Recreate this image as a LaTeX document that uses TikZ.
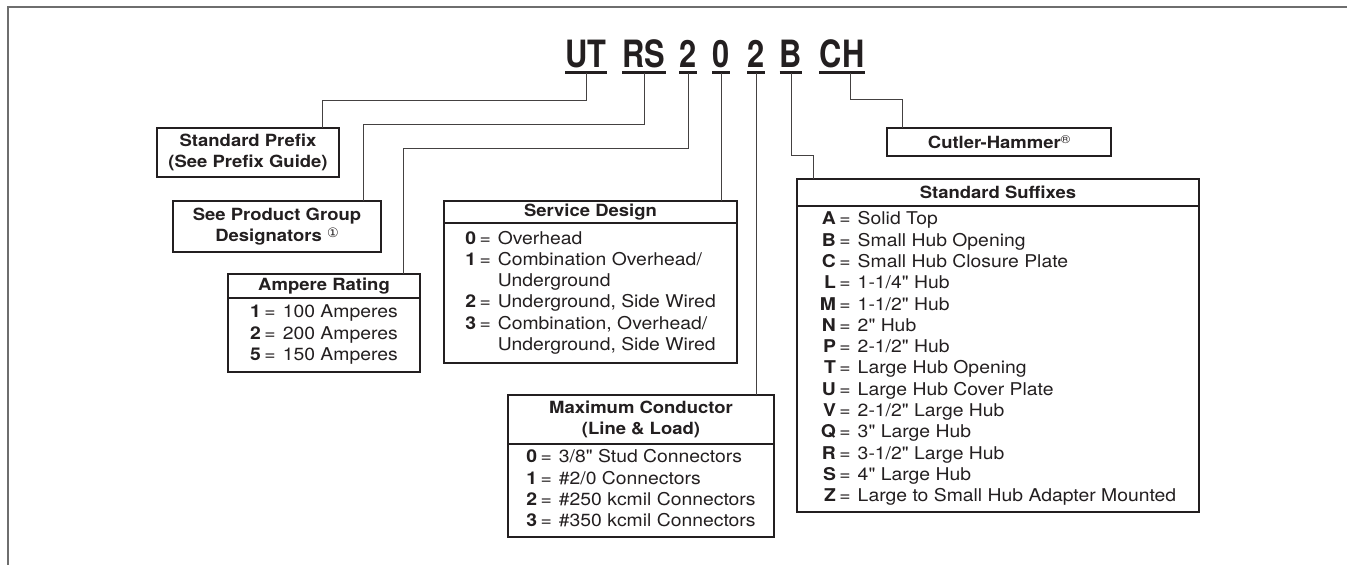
\documentclass[tikz,border=0pt]{standalone}
\usepackage{fontspec}
\setmainfont{TeX Gyre Heros}[FakeStretch=1.1, Ligatures=TeXOff]
\newfontfamily\codefont{TeX Gyre Heros}[FakeStretch=0.82]
\newfontfamily\symfont{DejaVu Sans}
\usepackage{xcolor}
\usepackage{tikz}
\usetikzlibrary{positioning}

\definecolor{inkc}{RGB}{35,31,32}
\definecolor{framec}{RGB}{110,110,110}
\newcommand\hdrfont{\fontsize{16.8}{20.5}\selectfont\bfseries}
\newcommand\bodyfont{\fontsize{17.6}{21.3}\selectfont}
\newcommand\kv[2]{\textbf{#1} & = & #2\\}
\newcommand\kvcont[1]{& & #1\\}
\newenvironment{keylist}{\begin{tabular}{@{}r@{\hspace{3.5pt}}c@{\hspace{7pt}}l@{}}}{\end{tabular}}

\begin{document}
\begin{tikzpicture}[
    x=1pt, y=-1pt,
    box/.style={draw=inkc, line width=1.2pt, inner sep=0pt, outer sep=0pt,
                align=center, font=\hdrfont, text=inkc},
    hdr/.style={box, anchor=north west},
    lst/.style={box, font=\bodyfont, below=0pt of #1},
    code/.style={font=\codefont\bfseries\fontsize{37.6}{40}\selectfont, text=inkc,
                 inner sep=0pt, text height=27pt, text depth=5.5pt, anchor=base},
    uline/.style={draw=inkc, line width=3pt},
    link/.style={draw=inkc!85, line width=1pt},
    frameline/.style={draw=framec, line width=2pt},
  ]
  \useasboundingbox (0,0) rectangle (1347,565);
  \draw[frameline] (8,565) -- (8,7) -- (1347,7);

  % Catalog number
  \node[code] (cPre) at (586,67) {UT};
  \node[code] (cGrp) at (644,67) {RS};
  \node[code] (cAmp) at (688,67) {2};
  \node[code] (cSvc) at (721,67) {0};
  \node[code] (cCon) at (756,67) {2};
  \node[code] (cSuf) at (791,67) {B};
  \node[code] (cMfr) at (842,67) {CH};
  \foreach \c in {cPre,cGrp,cAmp,cSvc,cCon,cSuf,cMfr}
    \draw[uline] (\c.south west) -- (\c.south east);

  % Single boxes
  \node[hdr, minimum width=182pt, minimum height=49pt] (prefix) at (157,128)
    {Standard Prefix\\(See Prefix Guide)};
  \node[hdr, minimum width=208pt, minimum height=51pt] (group) at (173,201)
    {See Product Group\\Designators \raisebox{3.5pt}{\symfont\mdseries\fontsize{13}{13}\selectfont ①}};
  \node[hdr, minimum width=224pt, minimum height=28pt] (mfr) at (887,128)
    {Cutler-Hammer\raisebox{4.5pt}{\mdseries\fontsize{11.5}{11.5}\selectfont ®}};

  % Boxes with lists
  \node[hdr, minimum width=192pt, minimum height=24pt] (ampH) at (228,274) {Ampere Rating};
  \node[lst=ampH, minimum width=192pt, minimum height=74pt] (ampB)
    {\begin{keylist}\kv{1}{100 Amperes}\kv{2}{200 Amperes}\kv{5}{150 Amperes}\end{keylist}};

  \node[hdr, minimum width=293pt, minimum height=22pt] (svcH) at (444,201) {Service Design};
  \node[lst=svcH, minimum width=293pt, minimum height=140pt] (svcB)
    {\begin{keylist}
      \kv{0}{Overhead}
      \kv{1}{Combination Overhead/}
      \kvcont{Underground}
      \kv{2}{Underground, Side Wired}
      \kv{3}{Combination, Overhead/}
      \kvcont{Underground, Side Wired}
    \end{keylist}};

  \node[hdr, minimum width=266pt, minimum height=49pt] (conH) at (508,395)
    {Maximum Conductor\\(Line \& Load)};
  \node[lst=conH, minimum width=266pt, minimum height=93pt] (conB)
    {\begin{keylist}
      \kv{0}{3/8" Stud Connectors}
      \kv{1}{\#2/0 Connectors}
      \kv{2}{\#250 kcmil Connectors}
      \kv{3}{\#350 kcmil Connectors}
    \end{keylist}};

  \node[hdr, minimum width=402pt, minimum height=27pt] (sufH) at (797,179) {Standard Suffixes};
  \node[lst=sufH, minimum width=402pt, minimum height=306pt] (sufB)
    {\begin{keylist}
      \kv{A}{Solid Top}
      \kv{B}{Small Hub Opening}
      \kv{C}{Small Hub Closure Plate}
      \kv{L}{1-1/4" Hub}
      \kv{M}{1-1/2" Hub}
      \kv{N}{2" Hub}
      \kv{P}{2-1/2" Hub}
      \kv{T}{Large Hub Opening}
      \kv{U}{Large Hub Cover Plate}
      \kv{V}{2-1/2" Large Hub}
      \kv{Q}{3" Large Hub}
      \kv{R}{3-1/2" Large Hub}
      \kv{S}{4" Large Hub}
      \kv{Z}{Large to Small Hub Adapter Mounted}
    \end{keylist}};

  % Leader lines
  \coordinate (kPre) at (322,100);
  \coordinate (kGrp) at (363,124);
  \coordinate (kAmp) at (403,148);
  \coordinate (kSuf) at (813,155);
  \coordinate (kMfr) at (902,99);
  \draw[link] (cPre.south) |- (kPre) -- (kPre |- prefix.north);
  \draw[link] (cGrp.south) |- (kGrp) -- (kGrp |- group.north);
  \draw[link] (cAmp.south) |- (kAmp) -- (kAmp |- ampH.north);
  \draw[link] (cSvc.south) -- (cSvc.south |- svcH.north);
  \draw[link] (cCon.south) -- (cCon.south |- conH.north);
  \draw[link] (cSuf.south) |- (kSuf) -- (kSuf |- sufH.north);
  \draw[link] ([xshift=8pt]cMfr.south) |- (kMfr) -- (kMfr |- mfr.north);

\end{tikzpicture}
\end{document}
